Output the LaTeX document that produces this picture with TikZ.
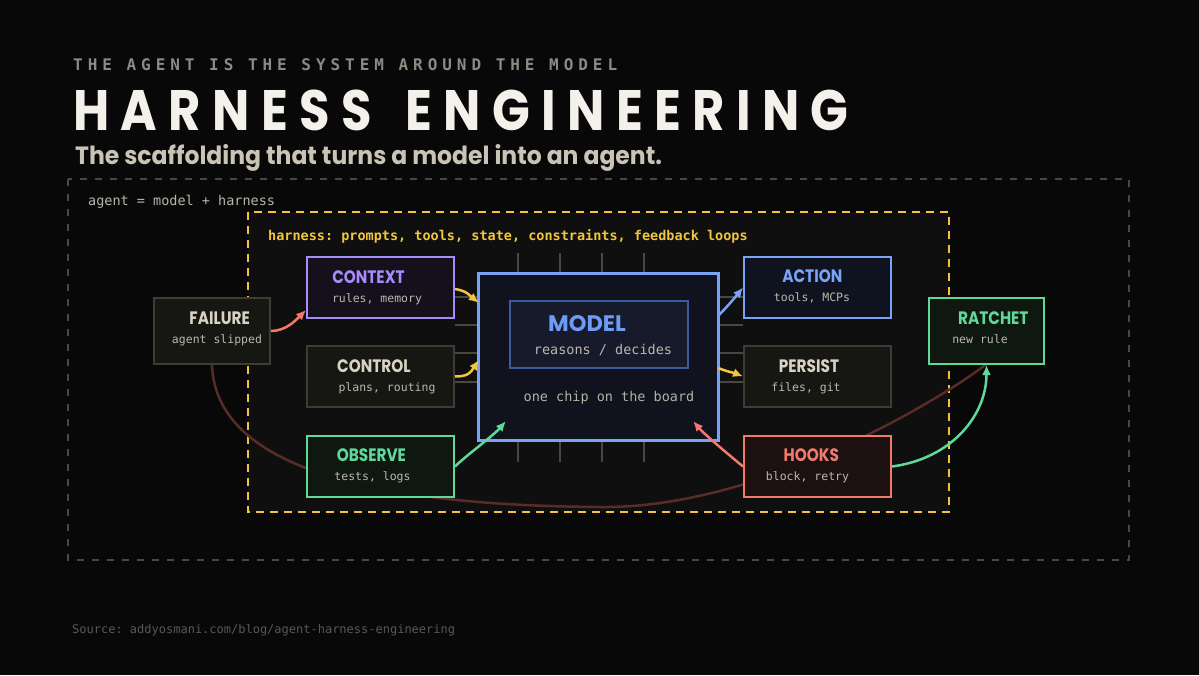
\documentclass[tikz,border=0pt]{standalone}
\usepackage{fontspec}
\setmonofont{DejaVu Sans Mono}
\newfontfamily\headfont{Poppins}[FakeStretch=0.85]
\newfontfamily\subfont{Poppins}[FakeStretch=0.94]
\newfontfamily\modelfont{Poppins}
\newfontfamily\titlefont{Poppins}[FakeStretch=0.87,LetterSpace=20]
\newfontfamily\kickerfont{DejaVu Sans Mono}[LetterSpace=31]
\usepackage{xcolor}
\usepackage{tikz}
\usetikzlibrary{arrows.meta}

\definecolor{bg}{HTML}{080808}
\definecolor{harnessbg}{HTML}{0E0F0E}
\definecolor{titlec}{HTML}{F4F1EA}
\definecolor{kickerc}{HTML}{8D8A82}
\definecolor{subtitlec}{HTML}{C9C4B6}
\definecolor{dashc}{HTML}{4A4843}
\definecolor{agentc}{HTML}{B9B5AB}
\definecolor{yel}{HTML}{F2C53D}
\definecolor{purp}{HTML}{A78BFA}
\definecolor{blu}{HTML}{7AA2F7}
\definecolor{grn}{HTML}{5FD89A}
\definecolor{cor}{HTML}{F27A6A}
\definecolor{neut}{HTML}{3F3C35}
\definecolor{neuttxt}{HTML}{D9D3C5}
\definecolor{subc}{HTML}{BDB8AB}
\definecolor{pinc}{HTML}{4A4741}
\definecolor{loopc}{HTML}{5A2C28}
\definecolor{chipbg}{HTML}{10131D}
\definecolor{coreedge}{HTML}{3D5A9C}
\definecolor{corebg}{HTML}{161A2A}
\definecolor{modelc}{HTML}{6F9BF5}
\definecolor{chiptxt}{HTML}{B5B0A5}
\definecolor{neutbg}{HTML}{161612}
\definecolor{purpbg}{HTML}{14101C}
\definecolor{grnbg}{HTML}{0F1711}
\definecolor{blubg}{HTML}{0F1320}
\definecolor{corbg}{HTML}{1C1010}
\definecolor{sourcec}{HTML}{5A5852}

\begin{document}
\begin{tikzpicture}[x=1pt,y=-1pt,
  box/.style={draw,line width=2pt,minimum width=147pt,minimum height=61pt,inner sep=0pt},
  ttl/.style={anchor=base,inner sep=0pt,font=\headfont\bfseries\fontsize{18}{18}\selectfont},
  sub/.style={anchor=base,inner sep=0pt,text=subc,font=\ttfamily\fontsize{11.5}{12}\selectfont},
  bigttl/.style={anchor=base west,inner sep=0pt,text=titlec,font=\titlefont\bfseries\fontsize{57}{57}\selectfont},
  arr/.style={line width=2.5pt,-{Latex[length=10pt,width=9pt]}},
  pin/.style={draw=pinc,line width=2pt}]
  \useasboundingbox[fill=bg] (0,0) rectangle (1199,675);

  % header
  \node[anchor=base west,inner sep=0pt,text=kickerc,font=\kickerfont\bfseries\fontsize{16}{16}\selectfont] (kicker) at (73,70) {THE AGENT IS THE SYSTEM AROUND THE MODEL};
  \node[bigttl] (title-a) at (73,130) {HARNESS};
  \node[bigttl] (title-b) at (405,130) {ENGINEERING};
  \node[anchor=base west,inner sep=0pt,text=subtitlec,font=\subfont\bfseries\fontsize{25}{25}\selectfont] (subtitle) at (75,164) {The scaffolding that turns a model into an agent.};

  % frames
  \draw[dashc,line width=1.5pt,dash pattern=on 7pt off 8pt] (68,179) rectangle (1129,560);
  \node[anchor=base west,inner sep=0pt,text=agentc,font=\ttfamily\fontsize{13.5}{14}\selectfont] (agent) at (88,205) {agent = model + harness};
  \filldraw[fill=harnessbg,draw=yel,line width=2pt,dash pattern=on 8pt off 6pt] (248,212) rectangle (949,512);
  \node[anchor=base west,inner sep=0pt,text=yel,font=\ttfamily\bfseries\fontsize{13.5}{14}\selectfont] (harness) at (268,240) {harness: prompts, tools, state, constraints, feedback loops};

  % feedback loop behind the boxes
  \coordinate (fail-s) at (212,364);
  \coordinate (rat-s) at (986.5,364);
  \draw[loopc,line width=2.5pt] (fail-s) .. controls (214,440) and (300,505) .. (600,507)
    .. controls (760,509) and (940,400) .. (rat-s);

  % chip with pins
  \node[minimum width=239pt,minimum height=166pt,inner sep=0pt] (chip) at (598.5,357) {};
  \foreach \dx in {39,81,123,165}{
    \draw[pin] ([xshift=\dx pt]chip.north west) -- ++(0,-21);
    \draw[pin] ([xshift=\dx pt]chip.south west) -- ++(0,22);
  }
  \foreach \dy in {23,51,79,108}{
    \draw[pin] ([yshift=-\dy pt]chip.north west) -- ++(-24,0);
    \draw[pin] ([yshift=-\dy pt]chip.north east) -- ++(25,0);
  }
  \filldraw[fill=chipbg,draw=blu,line width=3pt] (chip.north west) rectangle (chip.south east);
  \node[draw=coreedge,fill=corebg,line width=1.5pt,minimum width=178pt,minimum height=67pt,inner sep=0pt] (core) at (599,334.5) {};
  \node[anchor=base,inner sep=0pt,text=modelc,font=\modelfont\bfseries\fontsize{22.5}{22}\selectfont] (model-t) at (587,331.5) {MODEL};
  \node[sub,font=\ttfamily\fontsize{13.5}{14}\selectfont] (model-s) at (603,354.5) {reasons / decides};
  \node[sub,font=\ttfamily\fontsize{13.5}{14}\selectfont,text=chiptxt] (chip-s) at (609,401) {one chip on the board};

  % boxes
  \node[box,draw=neut,fill=neutbg,minimum width=116pt,minimum height=66pt] (fail) at (212,331) {};
  \node[ttl,text=neuttxt] at (219.7,324) {FAILURE};
  \node[sub] at (217,343) {agent slipped};

  \node[box,draw=purp,fill=purpbg] (ctx) at (380.5,287.5) {};
  \node[ttl,text=purp] at (368.5,283) {CONTEXT};
  \node[sub] at (377,302) {rules, memory};

  \node[box,draw=neut,fill=neutbg] (ctl) at (380.5,376.5) {};
  \node[ttl,text=neuttxt] at (374,372) {CONTROL};
  \node[sub] at (387,391) {plans, routing};

  \node[box,draw=grn,fill=grnbg] (obs) at (380.5,466.5) {};
  \node[ttl,text=grn] at (371.4,461) {OBSERVE};
  \node[sub] at (372.5,480) {tests, logs};

  \node[box,draw=blu,fill=blubg] (act) at (817.5,287.5) {};
  \node[ttl,text=blu] at (812.3,282) {ACTION};
  \node[sub] at (812,301) {tools, MCPs};

  \node[box,draw=neut,fill=neutbg] (per) at (817.5,376.5) {};
  \node[ttl,text=neuttxt] at (809,372) {PERSIST};
  \node[sub] at (806,391) {files, git};

  \node[box,draw=cor,fill=corbg] (hook) at (817.5,466.5) {};
  \node[ttl,text=cor] at (811.3,461) {HOOKS};
  \node[sub] at (807.5,480) {block, retry};

  \node[box,draw=grn,fill=grnbg,minimum width=115pt,minimum height=66pt] (rat) at (986.5,331) {};
  \node[ttl,text=grn] at (993.3,324) {RATCHET};
  \node[sub] at (980,343) {new rule};

  % arrows
  \draw[arr,cor] (fail.east) .. controls +(15,0) and +(-10,10) .. ([yshift=9pt]ctx.south west);
  \draw[arr,yel] ([yshift=-1.5pt]ctx.east) .. controls +(12,2) and +(-10,-8) .. ([yshift=-29pt]chip.north west);
  \draw[arr,yel] (ctl.east) .. controls +(14,0) and +(-8,12) .. ([yshift=-3pt]chip.west);
  \draw[arr,grn] (obs.east) .. controls +(10,-10) and +(-12,14) .. ([xshift=27pt,yshift=19pt]chip.south west);
  \draw[arr,blu] ([yshift=-42pt]chip.north east) .. controls +(8,-8) and +(-8,10) .. (act.west);
  \draw[arr,yel] ([yshift=-11pt]chip.east) .. controls +(10,4) and +(-10,-4) .. (per.west);
  \draw[arr,cor] (hook.west) .. controls +(-12,-10) and +(12,14) .. ([xshift=-25pt,yshift=19pt]chip.south east);
  \draw[arr,grn] (hook.east) .. controls +(60,-8) and +(0,50) .. (rat.south);

  % footer
  \node[anchor=base west,inner sep=0pt,text=sourcec,font=\ttfamily\fontsize{12}{13}\selectfont] (source) at (72,633) {Source: addyosmani.com/blog/agent-harness-engineering};
\end{tikzpicture}
\end{document}
